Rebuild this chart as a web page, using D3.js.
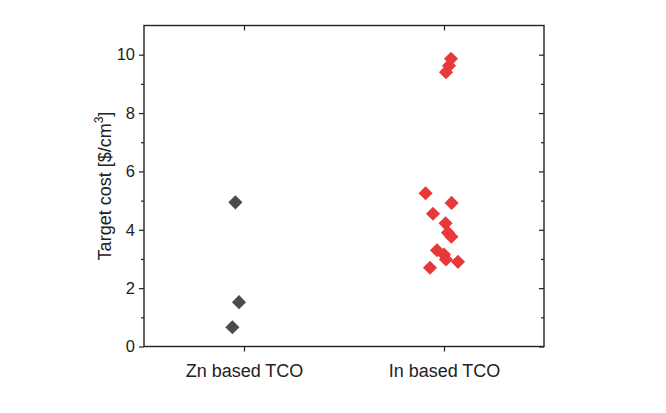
<!DOCTYPE html>
<html>
<head>
<meta charset="utf-8">
<script src="https://cdn.jsdelivr.net/npm/d3@7"></script>
<style>
  body { margin: 0; background: #fff; }
  svg text { font-family: "Liberation Sans", Arial, sans-serif; fill: #222; }
</style>
</head>
<body>
<div id="chart"></div>
<script>
// categories and the values
var categories = ["Zn based TCO", "In based TCO"];
var znCost = [4.94, 1.52, 0.66];
var znJitter = [-0.043, -0.025, -0.058];
var inCost = [9.86, 9.62, 9.40, 5.25, 4.92, 4.55, 4.22, 3.90, 3.76, 3.30, 3.15, 2.98, 2.90, 2.70];
var inJitter = [0.035, 0.025, 0.010, -0.092, 0.038, -0.055, 0.008, 0.020, 0.037, -0.035, 0.000, 0.010, 0.070, -0.070];
var yTicks = [0, 2, 4, 6, 8, 10];
var yMinor = [1, 3, 5, 7, 9];

var W = 666, H = 413;
var margin = { top: 25.5, right: 122, bottom: 66.5, left: 144 };
var width = W - margin.left - margin.right;
var height = H - margin.top - margin.bottom;

var svg = d3.select("#chart")
    .append("svg")
    .attr("width", W)
    .attr("height", H)
    .append("g")
    .attr("transform", "translate(" + margin.left + "," + margin.top + ")");

var x = d3.scalePoint()
    .domain(categories)
    .range([0, width])
    .padding(0.5);
var step = x.step();

var y = d3.scaleLinear()
    .domain([0, 11])
    .range([height, 0]);

function styleAxis(g) {
    g.select(".domain").remove();
    g.selectAll("line").attr("stroke", "#222").attr("stroke-width", 1.2);
}

// left axis, major + minor ticks pointing out
svg.append("g")
    .call(d3.axisLeft(y).tickValues(yTicks).tickSize(5).tickPadding(4))
    .call(styleAxis)
    .selectAll("text")
    .style("font-size", "16.5px");
svg.append("g")
    .call(d3.axisLeft(y).tickValues(yMinor).tickSize(3).tickFormat(""))
    .call(styleAxis);

// right axis, ticks pointing in
svg.append("g")
    .attr("transform", "translate(" + width + ",0)")
    .call(d3.axisLeft(y).tickValues(yTicks).tickSize(5).tickFormat(""))
    .call(styleAxis);
svg.append("g")
    .attr("transform", "translate(" + width + ",0)")
    .call(d3.axisLeft(y).tickValues(yMinor).tickSize(3).tickFormat(""))
    .call(styleAxis);

// bottom axis
svg.append("g")
    .attr("transform", "translate(0," + height + ")")
    .call(d3.axisBottom(x).tickSize(5).tickPadding(13))
    .call(styleAxis)
    .selectAll("text")
    .style("font-size", "18px");

// top axis, ticks pointing in
svg.append("g")
    .call(d3.axisBottom(x).tickSize(5).tickFormat(""))
    .call(styleAxis);

// frame
svg.append("rect")
    .attr("width", width)
    .attr("height", height)
    .attr("fill", "none")
    .attr("stroke", "#222")
    .attr("stroke-width", 1.4);

var diamond = d3.symbol().type(d3.symbolSquare).size(100);

function drawPoints(values, jitter, cat, color) {
    svg.append("g")
        .selectAll("path")
        .data(values)
        .enter()
        .append("path")
        .attr("d", diamond)
        .attr("fill", color)
        .attr("transform", function(d, i) {
            return "translate(" + (x(cat) + jitter[i] * step) + "," + y(d) + ") rotate(45)";
        });
}

drawPoints(znCost, znJitter, categories[0], "#4b4b4b");
drawPoints(inCost, inJitter, categories[1], "#e8383a");

// y title
var title = svg.append("text")
    .attr("transform", "translate(-33," + (height / 2) + ") rotate(-90)")
    .style("text-anchor", "middle")
    .style("font-size", "18px");
title.append("tspan").text("Target cost [$/cm");
title.append("tspan").attr("dy", -8).style("font-size", "12px").text("3");
title.append("tspan").attr("dy", 8).text("]");
</script>
</body>
</html>
